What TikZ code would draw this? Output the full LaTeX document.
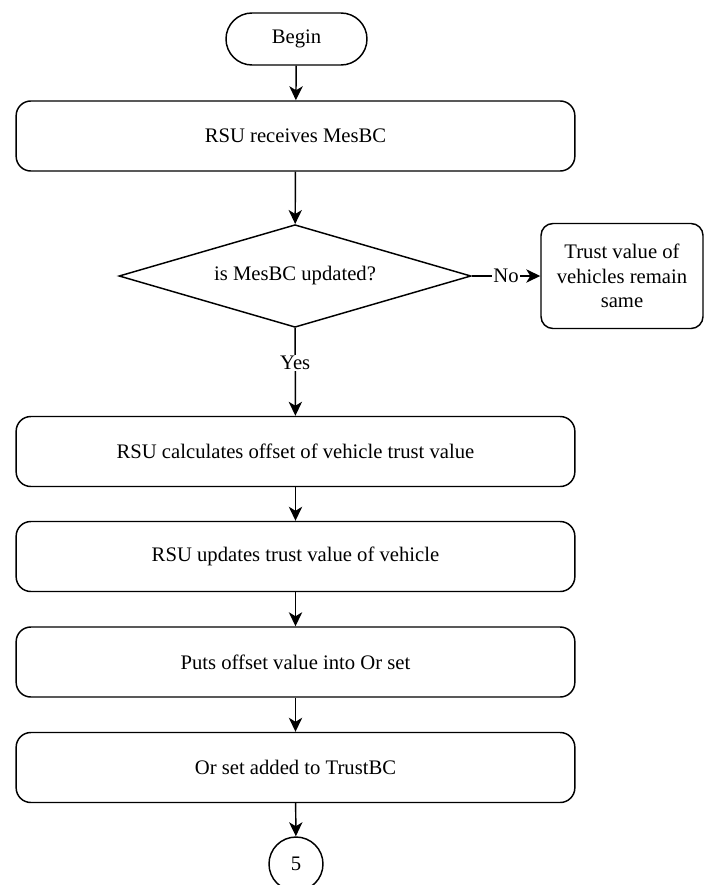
\documentclass[tikz,border=0pt]{standalone}
\usepackage{fontspec}
\setmainfont{Liberation Serif}
\usepackage{tikz}
\usetikzlibrary{arrows.meta,positioning,shapes.geometric}

\begin{document}
\begin{tikzpicture}[x=0.75pt, y=-0.75pt,
  line width=1.1pt,
  every node/.style={font=\fontsize{15.5}{18.6}\selectfont},
  box/.style={draw, rounded corners=11pt, minimum width=419pt,
              minimum height=52.5pt, align=center},
  term/.style={draw, rounded corners=19.5pt, minimum width=105.75pt,
               minimum height=39pt},
  decide/.style={draw, diamond, aspect=3.4, minimum width=264pt,
                 minimum height=77pt, inner sep=0pt},
  conn/.style={draw, circle, minimum size=40.5pt, inner sep=0pt},
  lbl/.style={fill=white, inner sep=1pt},
  arr/.style={-{Stealth[length=10.5pt, width=10pt, inset=3pt]}}]
  \useasboundingbox (0,0) rectangle (705,885);
  % start und Hauptspalte
  \node[term]   (begin) at (296.5, 39)   {Begin};
  \node[box]    (recv)  at (295.5, 136)  {RSU receives MesBC};
  \node[decide] (dec)   at (295, 276)    {is MesBC updated?\hspace{15pt}};
  % Seitenzweig
  \node[draw, rounded corners=9pt, minimum width=121.5pt, minimum height=78.75pt,
        align=center] (same) at (622, 276)
        {Trust value of\\vehicles remain\\same};
  \node[box]    (calc)  at (295.5, 451.5) {RSU calculates offset of vehicle trust value};
  \node[box]    (upd)   at (295.5, 556.5) {RSU updates trust value of vehicle};
  \node[box]    (puts)  at (295.5, 662)   {Puts offset value into Or set};
  \node[box]    (add)   at (295.5, 767.5) {Or set added to TrustBC};
  \node[conn]   (cont)  at (296, 864)     {5};
  % Pfeile
  \draw[arr] (begin) -- (recv);
  \draw[arr] (recv) -- (dec);
  \draw[arr] (dec) -- node[lbl] {No} (same);
  \draw[arr] (dec) -- node[lbl, pos=0.4] {Yes} (calc);
  \draw[arr] (calc) -- (upd);
  \draw[arr] (upd) -- (puts);
  \draw[arr] (puts) -- (add);
  \draw[arr] (add) -- (cont);
\end{tikzpicture}
\end{document}
